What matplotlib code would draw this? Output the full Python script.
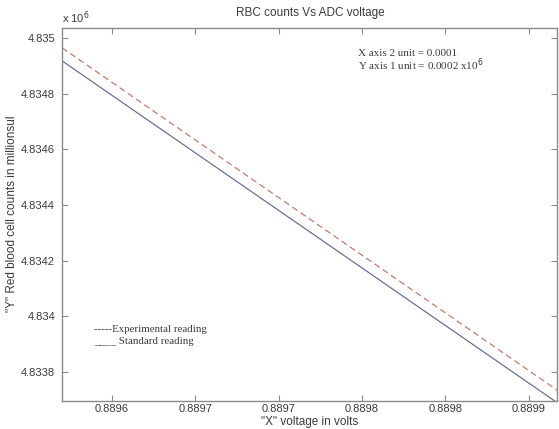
import matplotlib
matplotlib.use("Agg")
import matplotlib.pyplot as plt

# ---- data (y in units of 10^6 cells) ----
x_vals = [0.889570, 0.889870]
experimental = [4.834965, 4.833722]
standard = [4.834918, 4.833677]

x_ticks = [0.88960, 0.88965, 0.88970, 0.88975, 0.88980, 0.88985]
x_tick_labels = ['0.8896', '0.8897', '0.8897', '0.8898', '0.8898', '0.8899']
y_ticks = [4.8338, 4.8340, 4.8342, 4.8344, 4.8346, 4.8348, 4.8350]
y_tick_labels = ['4.8338', '4.834', '4.8342', '4.8344', '4.8346', '4.8348', '4.835']

title = 'RBC counts Vs ADC voltage'
xlabel = '"X" voltage in volts'
ylabel = '"Y" Red blood cell counts in millionsul'

plt.rcParams['font.family'] = ['Liberation Sans', 'DejaVu Sans']
W, H = 559, 429
fig = plt.figure(figsize=(W / 100, H / 100), dpi=100)
ax = fig.add_axes([62 / W, 1 - 401 / H, (557 - 62) / W, (401 - 28) / H])

ax.plot(x_vals, standard, color='#6e6e96', lw=0.9, ls='-')
ax.plot(x_vals, experimental, color='#c87a6a', lw=0.9, ls=(0, (5, 3)))

ax.set_xlim(0.889570, 0.889867)
ax.set_ylim(4.833695, 4.835036)
ax.set_xticks(x_ticks)
ax.set_xticklabels(x_tick_labels)
ax.set_yticks(y_ticks)
ax.set_yticklabels(y_tick_labels)

axis_col = '#8a8a8a'
text_col = '#3a3a3a'
for s in ax.spines.values():
    s.set_color(axis_col)
    s.set_linewidth(1.0)
ax.tick_params(direction='in', top=True, right=True, length=4, width=0.8,
               color=axis_col, labelsize=8, labelcolor=text_col)
ax.tick_params(axis='x', pad=2)
ax.tick_params(axis='y', pad=5)

fig.text(310 / W, 1 - 13 / H, title, fontsize=8.5, color=text_col,
         ha='center', va='center')
fig.text(310 / W, 1 - 422 / H, xlabel, fontsize=8.5, color=text_col,
         ha='center', va='center')
fig.text(12 / W, 1 - 214 / H, ylabel, fontsize=8.5, color=text_col,
         ha='center', va='center', rotation=90)

fig.text(62 / W, 1 - 18 / H, r'x 10$^{6}$', fontsize=8, color=text_col,
         va='center', ha='left')

serif = ['Liberation Serif', 'DejaVu Serif']
fig.text(358 / W, 1 - 53 / H, 'X axis 2 unit = 0.0001', family=serif,
         fontsize=8, color=text_col, va='center')
fig.text(358 / W, 1 - 65 / H, r'Y axis 1 unit = 0.0002 x10$^{6}$', family=serif,
         fontsize=8, color=text_col, va='center')
fig.text(94 / W, 1 - 329 / H, '-----Experimental reading', family=serif,
         fontsize=7.8, color=text_col, va='center')
fig.text(94 / W, 1 - 341 / H, '____ Standard reading', family=serif,
         fontsize=7.8, color=text_col, va='center')

fig.savefig('out.png', dpi=100)
